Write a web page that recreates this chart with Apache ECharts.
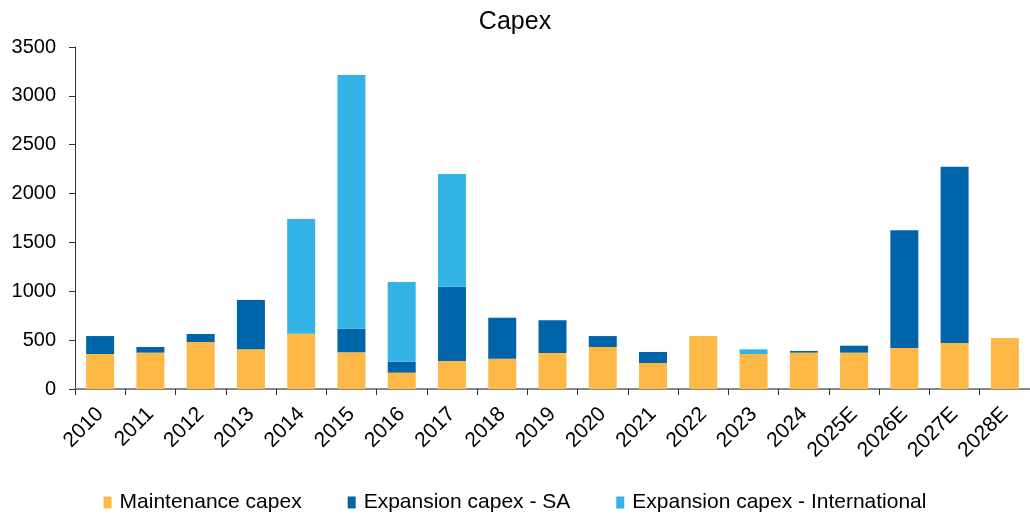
<!DOCTYPE html>
<html>
<head>
<meta charset="utf-8">
<title>Capex</title>
<script src="https://cdn.jsdelivr.net/npm/echarts@6/dist/echarts.min.js"></script>
<style>
  html, body { margin: 0; padding: 0; background: #fff; }
  #chart { width: 1030px; height: 514px; }
</style>
</head>
<body>
<div id="chart"></div>
<script>
// categories and values
const years = ['2010', '2011', '2012', '2013', '2014', '2015', '2016', '2017', '2018', '2019',
  '2020', '2021', '2022', '2023', '2024', '2025E', '2026E', '2027E', '2028E']
const maintenance = [358, 372, 481, 406, 566, 376, 167, 287, 310, 368, 430, 266, 542, 358, 372, 372, 420, 471, 522]
const expansionSA = [184, 58, 82, 505, 0, 241, 112, 760, 420, 335, 112, 113, 0, 0, 17, 71, 1204, 1804, 0]
const expansionIntl = [0, 0, 0, 0, 1174, 2597, 816, 1153, 0, 0, 0, 0, 0, 48, 0, 0, 0, 0, 0]
const yTicks = { min: 0, max: 3500, interval: 500 }

const chart = echarts.init(document.getElementById('chart'))

const font = 'Liberation Sans, Arial, sans-serif'

const barSeries = (name, data, color) => ({
  name,
  type: 'bar',
  stack: 'capex',
  data,
  barWidth: 28,
  itemStyle: { color },
  emphasis: { disabled: true }
})

const option = {
  animation: false,
  title: {
    text: 'Capex',
    left: 'center',
    top: 5,
    textStyle: { color: '#000', fontSize: 25, fontWeight: 'normal', fontFamily: font }
  },
  legend: {
    left: 'center',
    bottom: 1,
    padding: 0,
    itemWidth: 8,
    itemHeight: 12,
    itemGap: 46,
    icon: 'rect',
    textStyle: { color: '#000', fontSize: 21, fontFamily: font, padding: [0, 0, 0, 3] },
    data: ['Maintenance capex', 'Expansion capex - SA', 'Expansion capex - International']
  },
  grid: { left: 75, right: -4, top: 47, bottom: 125 },
  xAxis: {
    type: 'category',
    data: years,
    axisLine: { lineStyle: { color: '#888', width: 2 } },
    axisTick: { show: true, length: 6, lineStyle: { color: '#333' } },
    axisLabel: { rotate: 45, margin: 22, color: '#000', fontSize: 21, fontFamily: font, interval: 0 }
  },
  yAxis: {
    type: 'value',
    min: yTicks.min,
    max: yTicks.max,
    interval: yTicks.interval,
    splitLine: { show: false },
    axisLine: { show: true, lineStyle: { color: '#333' } },
    axisTick: { show: true, length: 6, lineStyle: { color: '#333' } },
    axisLabel: { margin: 19, color: '#000', fontSize: 20, fontFamily: font, formatter: (v) => String(v) }
  },
  series: [
    barSeries('Maintenance capex', maintenance, '#FDB846'),
    barSeries('Expansion capex - SA', expansionSA, '#0065A8'),
    barSeries('Expansion capex - International', expansionIntl, '#34B4E6')
  ]
}

chart.setOption(option)
</script>
</body>
</html>
